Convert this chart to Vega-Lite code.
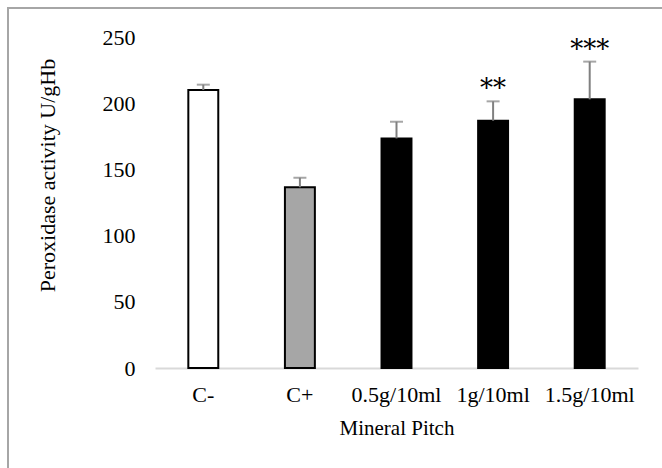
{
  "$schema": "https://vega.github.io/schema/vega-lite/v6.json",
  "width": 660,
  "height": 470,
  "autosize": {"type": "none"},
  "padding": {"left": 8, "top": 8, "right": 0, "bottom": 0},
  "background": "white",
  "title": {
    "text": "to Mineral Pitch",
    "anchor": "start",
    "font": "Liberation Serif",
    "fontStyle": "italic",
    "fontWeight": "bold",
    "fontSize": 22,
    "offset": 4,
    "baseline": "alphabetic",
    "color": "black"
  },
  "config": {
    "view": {"stroke": "#a6a6a6", "strokeWidth": 2},
    "font": "Liberation Serif"
  },
  "data": {
    "values": [
      {"group": "C-", "value": 210, "upper": 214, "sig": ""},
      {"group": "C+", "value": 136.5, "upper": 143.7, "sig": ""},
      {"group": "0.5g/10ml", "value": 173.4, "upper": 186, "sig": ""},
      {"group": "1g/10ml", "value": 186.8, "upper": 201.4, "sig": "**"},
      {"group": "1.5g/10ml", "value": 202.9, "upper": 231.4, "sig": "***"}
    ]
  },
  "encoding": {
    "x": {
      "field": "group",
      "type": "nominal",
      "sort": null,
      "scale": {"range": [147, 630], "paddingInner": 0.69, "paddingOuter": 0.345},
      "axis": {
        "title": "Mineral Pitch",
        "orient": "bottom",
        "offset": -110,
        "labelAngle": 0,
        "labelFont": "Liberation Serif",
        "labelFontSize": 22,
        "labelColor": "black",
        "labelPadding": 16,
        "ticks": false,
        "tickSize": 0,
        "domainColor": "#d9d9d9",
        "domainWidth": 2,
        "titleFont": "Liberation Serif",
        "titleFontSize": 21,
        "titleFontWeight": "normal",
        "titleColor": "black",
        "titlePadding": 12
      }
    }
  },
  "layer": [
    {
      "mark": {"type": "bar", "stroke": "black", "strokeWidth": 2},
      "encoding": {
        "y": {
          "field": "value",
          "type": "quantitative",
          "scale": {"domain": [0, 250], "range": [360, 29], "nice": false, "zero": true},
          "axis": {
            "title": "Peroxidase activity U/gHb",
            "orient": "left",
            "offset": -135,
            "values": [0, 50, 100, 150, 200, 250],
            "domain": false,
            "ticks": false,
            "tickSize": 0,
            "grid": false,
            "labelFont": "Liberation Serif",
            "labelFontSize": 22,
            "labelColor": "black",
            "labelPadding": 8,
            "titleFont": "Liberation Serif",
            "titleFontSize": 22,
            "titleFontWeight": "normal",
            "titleColor": "black",
            "titleAngle": -90,
            "titleAlign": "center",
            "titleBaseline": "middle",
            "titleX": -96,
            "titleY": 167
          }
        },
        "fill": {
          "field": "group",
          "type": "nominal",
          "scale": {
            "domain": ["C-", "C+", "0.5g/10ml", "1g/10ml", "1.5g/10ml"],
            "range": ["#ffffff", "#a6a6a6", "#000000", "#000000", "#000000"]
          },
          "legend": null
        }
      }
    },
    {
      "mark": {"type": "rule", "color": "#808080", "strokeWidth": 2},
      "encoding": {
        "y": {"field": "value", "type": "quantitative"},
        "y2": {"field": "upper"}
      }
    },
    {
      "mark": {"type": "tick", "color": "#808080", "size": 13, "thickness": 2},
      "encoding": {
        "y": {"field": "upper", "type": "quantitative"}
      }
    },
    {
      "mark": {"type": "text", "fontSize": 26, "baseline": "middle", "dy": -12, "color": "black", "font": "DejaVu Serif"},
      "encoding": {
        "y": {"field": "upper", "type": "quantitative"},
        "text": {"field": "sig"}
      }
    }
  ]
}
